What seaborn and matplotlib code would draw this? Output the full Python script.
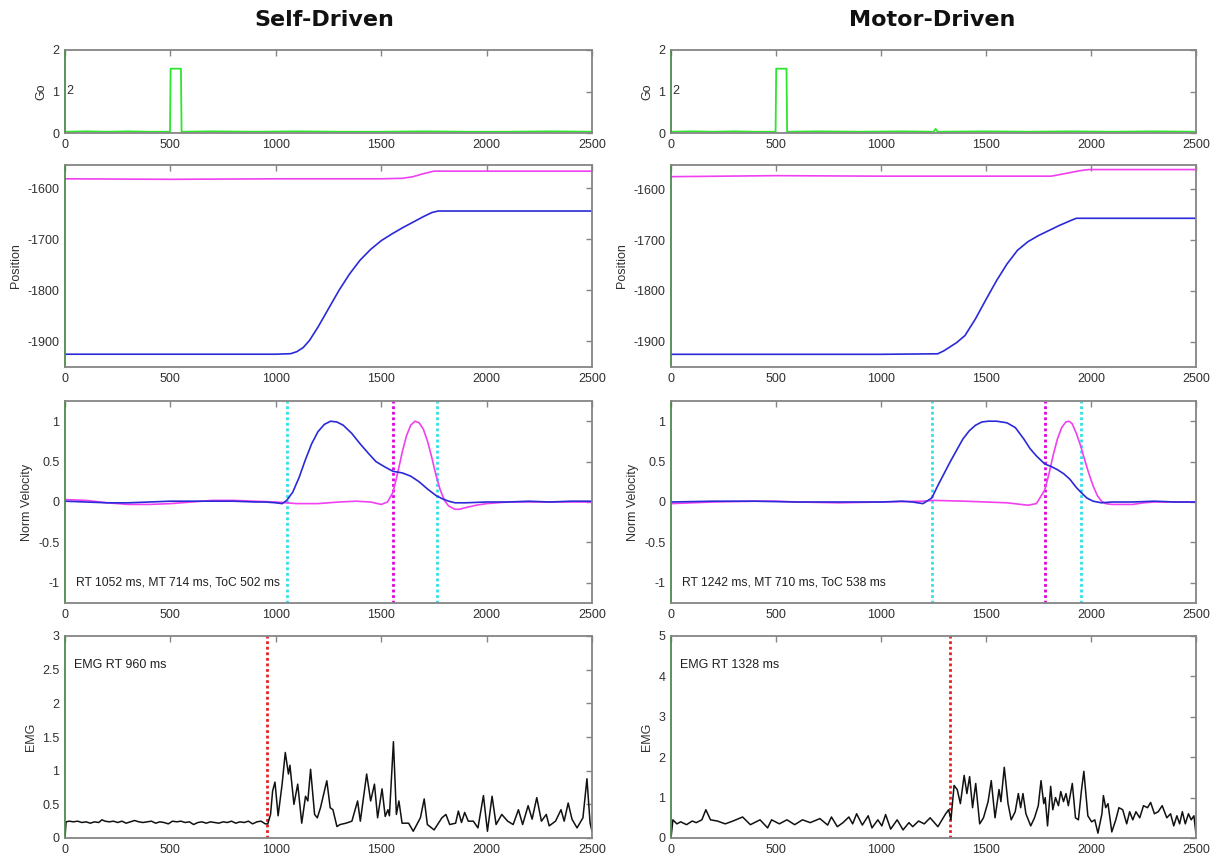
import numpy as np
import pandas as pd
import matplotlib
matplotlib.use("Agg")
import matplotlib.pyplot as plt
import matplotlib.ticker as mticker
import seaborn as sns

# ---------------- data ----------------
conditions = ["Self-Driven", "Motor-Driven"]

# Go signal (time ms, value)
go_self = [(0, 0.03), (100, 0.04), (200, 0.03), (300, 0.04), (400, 0.03), (498, 0.03), (501, 1.55),
           (550, 1.55), (553, 0.03), (700, 0.04), (900, 0.03), (1100, 0.04), (1300, 0.03), (1500, 0.03),
           (1700, 0.04), (1900, 0.03), (2100, 0.03), (2300, 0.04), (2500, 0.03)]
go_motor = [(0, 0.03), (100, 0.04), (200, 0.03), (300, 0.04), (400, 0.03), (498, 0.03), (501, 1.55),
            (550, 1.55), (553, 0.03), (700, 0.04), (900, 0.03), (1100, 0.04), (1250, 0.03), (1260, 0.1),
            (1270, 0.03), (1500, 0.04), (1700, 0.03), (1900, 0.04), (2100, 0.03), (2300, 0.04), (2500, 0.03)]

# Position traces
pos_blue_self = [(0, -1925), (1000, -1925), (1070, -1924), (1100, -1920), (1130, -1912), (1160, -1898),
                 (1200, -1872), (1250, -1836), (1300, -1800), (1350, -1768), (1400, -1741), (1450, -1720),
                 (1500, -1703), (1550, -1690), (1600, -1678), (1650, -1667), (1700, -1656), (1740, -1648),
                 (1770, -1645), (1800, -1645), (2500, -1645)]
pos_mag_self = [(0, -1582), (500, -1583), (1000, -1582), (1500, -1582), (1600, -1581), (1650, -1578),
                (1700, -1572), (1750, -1567), (1800, -1567), (2500, -1567)]
pos_blue_motor = [(0, -1925), (1000, -1925), (1270, -1924), (1300, -1918), (1330, -1910), (1360, -1902),
                  (1400, -1888), (1450, -1855), (1500, -1817), (1550, -1780), (1600, -1747), (1650, -1720),
                  (1700, -1703), (1750, -1691), (1800, -1681), (1850, -1671), (1900, -1662), (1930, -1657),
                  (1960, -1657), (2500, -1657)]
pos_mag_motor = [(0, -1575), (500, -1573), (1000, -1574), (1500, -1574), (1810, -1574), (1850, -1571),
                 (1900, -1567), (1950, -1563), (1990, -1561), (2500, -1561)]

# Normalised velocity traces
vel_blue_self = [(0, 0.01), (100, 0.0), (200, -0.01), (300, -0.01), (400, 0.0), (500, 0.01), (600, 0.01),
                 (700, 0.01), (800, 0.01), (900, 0.0), (950, 0.0), (1000, -0.01), (1030, -0.02),
                 (1052, 0.02), (1080, 0.12), (1110, 0.3), (1140, 0.52), (1170, 0.72), (1200, 0.87),
                 (1230, 0.96), (1260, 1.0), (1290, 0.99), (1320, 0.95), (1360, 0.85), (1400, 0.72),
                 (1440, 0.6), (1475, 0.5), (1520, 0.43), (1556, 0.38), (1600, 0.36), (1640, 0.32),
                 (1680, 0.25), (1720, 0.16), (1760, 0.08), (1790, 0.04), (1820, 0.01), (1850, -0.01),
                 (1900, -0.01), (2000, 0.0), (2100, 0.0), (2200, 0.01), (2300, 0.0), (2400, 0.01), (2500, 0.01)]
vel_mag_self = [(0, 0.03), (100, 0.02), (200, -0.01), (300, -0.03), (400, -0.03), (500, -0.02), (600, 0.0),
                (700, 0.02), (800, 0.02), (900, 0.01), (1000, 0.0), (1100, -0.02), (1200, -0.02),
                (1300, 0.0), (1380, 0.01), (1450, 0.0), (1500, -0.03), (1530, 0.0), (1556, 0.12),
                (1580, 0.38), (1600, 0.62), (1620, 0.82), (1640, 0.95), (1660, 1.0), (1680, 0.98),
                (1700, 0.9), (1720, 0.75), (1740, 0.55), (1760, 0.33), (1780, 0.15), (1800, 0.02),
                (1820, -0.05), (1850, -0.09), (1870, -0.09), (1900, -0.07), (1950, -0.04), (2000, -0.02),
                (2100, 0.0), (2200, 0.0), (2300, 0.0), (2400, 0.0), (2500, 0.0)]
vel_blue_motor = [(0, 0.0), (200, 0.01), (400, 0.01), (600, 0.0), (800, 0.0), (1000, 0.0), (1100, 0.01),
                  (1150, 0.0), (1200, -0.02), (1242, 0.05), (1270, 0.2), (1300, 0.35), (1330, 0.5),
                  (1360, 0.64), (1390, 0.78), (1420, 0.88), (1450, 0.95), (1480, 0.99), (1510, 1.0),
                  (1550, 1.0), (1600, 0.98), (1640, 0.92), (1680, 0.78), (1710, 0.66), (1740, 0.57),
                  (1780, 0.47), (1810, 0.44), (1840, 0.4), (1870, 0.35), (1900, 0.28), (1930, 0.18),
                  (1952, 0.12), (1980, 0.05), (2010, 0.01), (2050, -0.01), (2100, 0.0), (2200, 0.0),
                  (2300, 0.01), (2400, 0.0), (2500, 0.0)]
vel_mag_motor = [(0, -0.02), (200, 0.0), (400, 0.01), (500, 0.01), (600, 0.0), (800, -0.01), (1000, 0.0),
                 (1200, 0.01), (1250, 0.02), (1400, 0.01), (1500, 0.0), (1600, -0.01), (1700, -0.04),
                 (1740, -0.02), (1780, 0.15), (1800, 0.35), (1820, 0.58), (1840, 0.78), (1860, 0.92),
                 (1880, 0.99), (1895, 1.0), (1910, 0.97), (1930, 0.85), (1950, 0.7), (1970, 0.52),
                 (1990, 0.35), (2010, 0.2), (2030, 0.08), (2050, 0.01), (2070, -0.02), (2100, -0.03),
                 (2150, -0.03), (2200, -0.03), (2250, -0.01), (2300, 0.0), (2400, 0.0), (2500, 0.0)]

# Timing results
rt_ms = [1052, 1242]
mt_ms = [714, 710]
toc_ms = [502, 538]
emg_rt_ms = [960, 1328]

# EMG traces
emg_self = [(0, 0.0), (5, 0.24), (20, 0.25), (40, 0.24), (60, 0.25), (80, 0.23), (100, 0.24), (120, 0.22),
            (140, 0.24), (160, 0.23), (175, 0.27), (190, 0.25), (210, 0.24), (230, 0.25), (250, 0.23),
            (270, 0.25), (290, 0.22), (310, 0.24), (330, 0.26), (350, 0.24), (370, 0.23), (390, 0.24),
            (410, 0.25), (430, 0.22), (450, 0.24), (470, 0.23), (490, 0.21), (510, 0.25), (530, 0.24),
            (550, 0.25), (570, 0.23), (590, 0.24), (610, 0.2), (630, 0.23), (650, 0.24), (670, 0.22),
            (690, 0.24), (710, 0.23), (730, 0.22), (750, 0.24), (770, 0.23), (790, 0.25), (810, 0.22),
            (830, 0.24), (850, 0.23), (870, 0.25), (890, 0.21), (910, 0.24), (930, 0.25), (950, 0.21),
            (962, 0.21), (975, 0.35), (985, 0.7), (996, 0.83), (1011, 0.33), (1030, 0.8), (1045, 1.27),
            (1060, 0.95), (1067, 1.08), (1086, 0.5), (1104, 0.8), (1123, 0.22), (1141, 0.62), (1152, 0.55),
            (1165, 1.02), (1184, 0.35), (1197, 0.3), (1212, 0.45), (1242, 0.85), (1258, 0.45),
            (1271, 0.42), (1290, 0.17), (1305, 0.2), (1333, 0.22), (1361, 0.25), (1388, 0.55),
            (1401, 0.25), (1431, 0.95), (1450, 0.55), (1468, 0.8), (1483, 0.3), (1504, 0.73),
            (1519, 0.32), (1532, 0.42), (1539, 0.33), (1558, 1.43), (1572, 0.35), (1584, 0.55),
            (1599, 0.22), (1630, 0.22), (1652, 0.1), (1686, 0.3), (1704, 0.58), (1719, 0.2),
            (1751, 0.12), (1788, 0.3), (1807, 0.35), (1825, 0.2), (1853, 0.22), (1866, 0.4),
            (1881, 0.23), (1896, 0.38), (1913, 0.25), (1937, 0.25), (1959, 0.15), (1985, 0.63),
            (2004, 0.1), (2026, 0.62), (2045, 0.2), (2072, 0.35), (2100, 0.25), (2126, 0.2),
            (2151, 0.42), (2171, 0.2), (2197, 0.48), (2216, 0.28), (2238, 0.6), (2260, 0.25),
            (2283, 0.35), (2297, 0.18), (2327, 0.25), (2353, 0.42), (2368, 0.25), (2387, 0.52),
            (2405, 0.28), (2429, 0.15), (2457, 0.3), (2476, 0.88), (2491, 0.22), (2500, 0.1)]
emg_motor = [(0, 0.0), (9, 0.45), (28, 0.35), (46, 0.4), (74, 0.33), (101, 0.42), (120, 0.38), (147, 0.45),
             (166, 0.7), (188, 0.45), (221, 0.42), (258, 0.35), (295, 0.42), (341, 0.52), (378, 0.33),
             (424, 0.45), (460, 0.25), (479, 0.45), (516, 0.35), (552, 0.45), (589, 0.33), (626, 0.45),
             (663, 0.38), (709, 0.48), (746, 0.32), (764, 0.52), (792, 0.28), (819, 0.38), (847, 0.52),
             (865, 0.35), (884, 0.6), (911, 0.32), (939, 0.55), (957, 0.25), (985, 0.45), (1004, 0.3),
             (1022, 0.58), (1046, 0.22), (1077, 0.45), (1105, 0.2), (1133, 0.38), (1151, 0.28),
             (1179, 0.42), (1206, 0.35), (1234, 0.5), (1271, 0.28), (1308, 0.6), (1322, 0.7),
             (1333, 0.45), (1348, 1.3), (1363, 1.2), (1378, 0.85), (1396, 1.55), (1409, 1.1),
             (1422, 1.52), (1436, 0.75), (1451, 1.35), (1470, 0.35), (1488, 0.5), (1510, 0.9),
             (1525, 1.42), (1543, 0.5), (1562, 1.2), (1571, 0.9), (1587, 1.75), (1605, 0.85),
             (1620, 0.45), (1639, 0.65), (1654, 1.1), (1665, 0.75), (1676, 1.1), (1690, 0.6),
             (1713, 0.3), (1731, 0.5), (1749, 0.8), (1762, 1.42), (1775, 0.85), (1782, 1.0),
             (1793, 0.3), (1808, 1.28), (1818, 0.7), (1831, 1.0), (1845, 0.8), (1856, 1.15),
             (1869, 0.9), (1881, 1.1), (1892, 0.8), (1911, 1.35), (1926, 0.5), (1940, 0.45),
             (1955, 1.2), (1966, 1.65), (1985, 0.55), (2003, 0.4), (2018, 0.45), (2033, 0.12),
             (2052, 0.6), (2059, 1.05), (2070, 0.75), (2081, 0.85), (2099, 0.15), (2118, 0.45),
             (2133, 0.75), (2151, 0.7), (2170, 0.35), (2184, 0.65), (2199, 0.45), (2214, 0.65),
             (2232, 0.5), (2250, 0.8), (2269, 0.75), (2284, 0.88), (2302, 0.6), (2320, 0.65),
             (2339, 0.8), (2361, 0.5), (2379, 0.6), (2394, 0.3), (2409, 0.55), (2422, 0.35),
             (2435, 0.65), (2449, 0.35), (2464, 0.6), (2477, 0.45), (2490, 0.55), (2500, 0.1)]

emg_ymax = [3, 5]
emg_yticks = [[0, 0.5, 1, 1.5, 2, 2.5, 3], [0, 1, 2, 3, 4, 5]]
pos_ylim = [(-1950, -1555), (-1950, -1552)]
x_ticks = [0, 500, 1000, 1500, 2000, 2500]

# ---------------- style ----------------
sns.set_theme(style="white")
plt.rcParams["font.family"] = ["Liberation Sans", "DejaVu Sans"]
plt.rcParams["axes.unicode_minus"] = False

GREEN = "#2ee62e"
MAG = "#f040f0"
BLUE = "#2a2ad8"
CYAN = "#30e0e8"
DMAG = "#e000e0"
RED = "#e82020"
SPINE = "#858585"
TXT = "#303030"

fig = plt.figure(figsize=(12.17, 8.6), dpi=100)
W, H = 1217.0, 860.0
col_x = [(65, 592), (671, 1196)]
rows = [(50, 133), (165, 367), (401, 603), (636, 838)]


def make_ax(c, r):
    x0, x1 = col_x[c]
    y0, y1 = rows[r]
    ax = fig.add_axes([x0 / W, 1 - y1 / H, (x1 - x0) / W, (y1 - y0) / H])
    ax.set_facecolor("white")
    for s in ax.spines.values():
        s.set_color(SPINE)
        s.set_linewidth(1.3)
    ax.spines["left"].set_color("#4c8a4c")
    ax.tick_params(direction="in", top=True, right=True, length=4, width=1, color=SPINE,
                   labelsize=9, labelcolor=TXT, pad=4)
    ax.set_xlim(0, 2500)
    ax.set_xticks(x_ticks)
    ax.yaxis.set_major_formatter(mticker.FuncFormatter(lambda v, p: "%g" % v))
    return ax


def draw(ax, pairs, color, lw=1.2):
    df = pd.DataFrame(pairs, columns=["t", "v"])
    sns.lineplot(data=df, x="t", y="v", ax=ax, color=color, linewidth=lw,
                 sort=False, estimator=None)
    ax.set_xlabel("")


go = [go_self, go_motor]
pos_b = [pos_blue_self, pos_blue_motor]
pos_m = [pos_mag_self, pos_mag_motor]
vel_b = [vel_blue_self, vel_blue_motor]
vel_m = [vel_mag_self, vel_mag_motor]
emg = [emg_self, emg_motor]
dot = (0, (1, 1))

for c in range(2):
    # Go
    ax = make_ax(c, 0)
    draw(ax, go[c], GREEN, 1.3)
    ax.set_ylim(0, 2)
    ax.set_yticks([0, 1, 2])
    ax.set_ylabel("Go", fontsize=9, color=TXT)
    ax.text(0.002, 1, "2", transform=ax.get_yaxis_transform(), ha="left", va="center",
            fontsize=9, color=TXT)

    # Position
    ax = make_ax(c, 1)
    draw(ax, pos_m[c], MAG)
    draw(ax, pos_b[c], BLUE)
    ax.set_ylim(*pos_ylim[c])
    ax.set_yticks([-1900, -1800, -1700, -1600])
    ax.set_ylabel("Position", fontsize=9, color=TXT)

    # Velocity
    ax = make_ax(c, 2)
    rt, mt, toc = rt_ms[c], mt_ms[c], toc_ms[c]
    ax.axvline(rt, color=CYAN, lw=2, ls=dot)
    ax.axvline(rt + mt, color=CYAN, lw=2, ls=dot)
    ax.axvline(rt + toc, color=DMAG, lw=2, ls=dot)
    draw(ax, vel_m[c], MAG)
    draw(ax, vel_b[c], BLUE)
    ax.set_ylim(-1.25, 1.25)
    ax.set_yticks([-1, -0.5, 0, 0.5, 1])
    ax.set_ylabel("Norm Velocity", fontsize=9, color=TXT)
    ax.text(52, -1, f"RT {rt} ms, MT {mt} ms, ToC {toc} ms", ha="left", va="center",
            fontsize=8.7, color="#202020")

    # EMG
    ax = make_ax(c, 3)
    ax.axvline(emg_rt_ms[c], color=RED, lw=2, ls=dot)
    draw(ax, emg[c], "#111111", 1.1)
    ax.set_ylim(0, emg_ymax[c])
    ax.set_yticks(emg_yticks[c])
    ax.set_ylabel("EMG", fontsize=9, color=TXT)
    ax.text(45, emg_ymax[c] * 0.857, f"EMG RT {emg_rt_ms[c]} ms", ha="left", va="center",
            fontsize=9, color="#202020")

fig.text(324 / W, 1 - 20 / H, conditions[0], ha="center", va="center", fontsize=16,
         fontweight="bold", family="DejaVu Sans", color="#111111")
fig.text(932 / W, 1 - 20 / H, conditions[1], ha="center", va="center", fontsize=16,
         fontweight="bold", family="DejaVu Sans", color="#111111")

fig.savefig("out.png", dpi=100)
